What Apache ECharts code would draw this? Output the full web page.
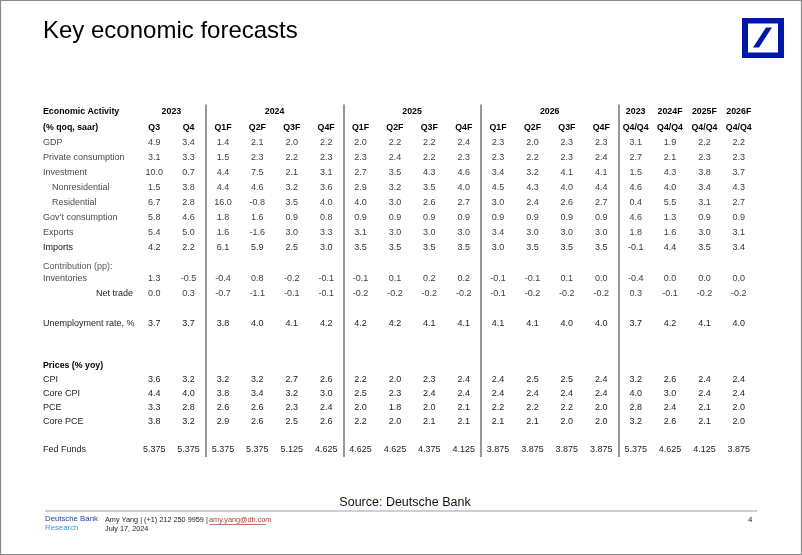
<!DOCTYPE html>
<html>
<head>
<meta charset="utf-8">
<script src="https://cdn.jsdelivr.net/npm/echarts@6/dist/echarts.min.js"></script>
<style>html,body{margin:0;padding:0;background:#fff;}#c{width:802px;height:555px;}</style>
</head>
<body>
<div id="c"></div>
<script>
// ---- column headers ----
const quarterLabels = ['Q3','Q4','Q1F','Q2F','Q3F','Q4F','Q1F','Q2F','Q3F','Q4F','Q1F','Q2F','Q3F','Q4F','Q4/Q4','Q4/Q4','Q4/Q4','Q4/Q4'];
const yearLabels = ['2023','2023','2024','2024','2024','2024','2025','2025','2025','2025','2026','2026','2026','2026','2023 ','2024F','2025F','2026F'];

// ---- row labels ----
const topRowLabels = ['Economic Activity','(% qoq, saar)','GDP','Private consumption','Investment','Nonresidential','Residential','Gov\u2019t consumption','Exports','Imports','Contribution (pp):','Inventories','Net trade','','Unemployment rate, %'];
const bottomRowLabels = ['','','Prices (% yoy)','CPI','Core CPI','PCE','Core PCE','','Fed Funds'];

// ---- series values ----
const gdp          = [4.9,3.4,1.4,2.1,2.0,2.2,2.0,2.2,2.2,2.4,2.3,2.0,2.3,2.3,3.1,1.9,2.2,2.2];
const privCons     = [3.1,3.3,1.5,2.3,2.2,2.3,2.3,2.4,2.2,2.3,2.3,2.2,2.3,2.4,2.7,2.1,2.3,2.3];
const investment   = [10.0,0.7,4.4,7.5,2.1,3.1,2.7,3.5,4.3,4.6,3.4,3.2,4.1,4.1,1.5,4.3,3.8,3.7];
const nonres       = [1.5,3.8,4.4,4.6,3.2,3.6,2.9,3.2,3.5,4.0,4.5,4.3,4.0,4.4,4.6,4.0,3.4,4.3];
const residential  = [6.7,2.8,16.0,-0.8,3.5,4.0,4.0,3.0,2.6,2.7,3.0,2.4,2.6,2.7,0.4,5.5,3.1,2.7];
const govCons      = [5.8,4.6,1.8,1.6,0.9,0.8,0.9,0.9,0.9,0.9,0.9,0.9,0.9,0.9,4.6,1.3,0.9,0.9];
const exportsV     = [5.4,5.0,1.6,-1.6,3.0,3.3,3.1,3.0,3.0,3.0,3.4,3.0,3.0,3.0,1.8,1.6,3.0,3.1];
const importsV     = [4.2,2.2,6.1,5.9,2.5,3.0,3.5,3.5,3.5,3.5,3.0,3.5,3.5,3.5,-0.1,4.4,3.5,3.4];
const inventories  = [1.3,-0.5,-0.4,0.8,-0.2,-0.1,-0.1,0.1,0.2,0.2,-0.1,-0.1,0.1,0.0,-0.4,0.0,0.0,0.0];
const netTrade     = [0.0,0.3,-0.7,-1.1,-0.1,-0.1,-0.2,-0.2,-0.2,-0.2,-0.1,-0.2,-0.2,-0.2,0.3,-0.1,-0.2,-0.2];
const unemployment = [3.7,3.7,3.8,4.0,4.1,4.2,4.2,4.2,4.1,4.1,4.1,4.1,4.0,4.0,3.7,4.2,4.1,4.0];
const cpi          = [3.6,3.2,3.2,3.2,2.7,2.6,2.2,2.0,2.3,2.4,2.4,2.5,2.5,2.4,3.2,2.6,2.4,2.4];
const coreCpi      = [4.4,4.0,3.8,3.4,3.2,3.0,2.5,2.3,2.4,2.4,2.4,2.4,2.4,2.4,4.0,3.0,2.4,2.4];
const pce          = [3.3,2.8,2.6,2.6,2.3,2.4,2.0,1.8,2.0,2.1,2.2,2.2,2.2,2.0,2.8,2.4,2.1,2.0];
const corePce      = [3.8,3.2,2.9,2.6,2.5,2.6,2.2,2.0,2.1,2.1,2.1,2.1,2.0,2.0,3.2,2.6,2.1,2.0];
const fedFunds     = [5.375,5.375,5.375,5.375,5.125,4.625,4.625,4.625,4.375,4.125,3.875,3.875,3.875,3.875,5.375,4.625,4.125,3.875];

// row -> series mapping
const topSeries = [null,null,gdp,privCons,investment,nonres,residential,govCons,exportsV,importsV,null,inventories,netTrade,null,unemployment];
const bottomSeries = [null,null,null,cpi,coreCpi,pce,corePce,null,fedFunds];

// ---- presentation (styles) ----
const FONT = 'Liberation Sans, Arial, sans-serif';
const topRowStyle = ['hdr','hdr','lite','lite','lite','ind','ind','lite','lite','imp','contrib','lite','nt','lite','dark'];
const bottomRowStyle = ['lite','lite','hdr','dark','dark','dark','dark','lite','dark'];
const valueColor = {hdr:'#000', lite:'#3d3d3d', ind:'#3d3d3d', imp:'#2e2e2e', contrib:'#3d3d3d', nt:'#3d3d3d', dark:'#222'};
const groupBreaks = [2,6,10,14];

const colKeys = quarterLabels.map((q,i)=> yearLabels[i].trim() + ' ' + q + ' #' + i);

function fmt(v, d){ return v.toFixed(d); }

function buildCells(seriesArr, styleArr){
  const cells = [];
  seriesArr.forEach((arr, r) => {
    if (!arr) return;
    const d = arr === fedFunds ? 3 : 1;
    arr.forEach((v, c) => cells.push({value:[c, r], text: fmt(v, d), color: valueColor[styleArr[r]], bold:false}));
  });
  return cells;
}
const cellsA = buildCells(topSeries, topRowStyle);
// quarter header row (row index 1)
quarterLabels.forEach((q, c) => cellsA.push({value:[c, 1], text:q, color:'#000', bold:true}));
const cellsB = buildCells(bottomSeries, bottomRowStyle);

// year header runs (row index 0)
const yearRuns = [];
yearLabels.forEach((y, c) => {
  const last = yearRuns[yearRuns.length-1];
  if (last && last.label === y) last.end = c; else yearRuns.push({label:y, start:c, end:c});
});

function cellRender(cells){
  return function(params, api){
    const cell = cells[params.dataIndex];
    const p = api.coord([api.value(0), api.value(1)]);
    return {type:'text', x:p[0], y:p[1], style:{text:cell.text, align:'center', verticalAlign:'middle',
      font:(cell.bold?'bold 8.8px ':'9px ') + FONT, fill:cell.color}};
  };
}

const rich = {
  hdr:{fontWeight:'bold', color:'#000', fontSize:8.8, fontFamily:FONT},
  lite:{color:'#4a4a4a', fontSize:9, fontFamily:FONT},
  ind:{color:'#4a4a4a', fontSize:9, fontFamily:FONT, padding:[0,0,0,9]},
  imp:{color:'#111', fontSize:9, fontFamily:FONT},
  contrib:{color:'#555', fontSize:9, fontFamily:FONT, padding:[7,0,0,0]},
  nt:{color:'#222', fontSize:9, fontFamily:FONT, padding:[0,0,0,53]},
  dark:{color:'#1e1e1e', fontSize:9, fontFamily:FONT}
};

function yAxisFor(gridIndex, labels, styles){
  return {gridIndex, type:'category', inverse:true, data: labels.map((l,i)=>'row'+i),
    axisLine:{show:false}, axisTick:{show:false}, splitLine:{show:false},
    axisLabel:{interval:0, margin:94, align:'left', fontFamily:FONT, fontSize:9,
      formatter:(v, idx)=> labels[idx] ? '{' + styles[idx] + '|' + labels[idx] + '}' : '', rich}};
}
const sepColor = '#7d7d7d';
function xAxisFor(gridIndex){
  return {gridIndex, type:'category', data: colKeys, boundaryGap:true,
    axisLine:{show:false}, axisTick:{show:false}, axisLabel:{show:false},
    splitLine:{show:true, interval:(idx)=> groupBreaks.indexOf(idx) >= 0,
      lineStyle:{color:[sepColor, sepColor, sepColor, sepColor, 'rgba(0,0,0,0)'], width:1.6}}};
}

const chart = echarts.init(document.getElementById('c'));
chart.setOption({
  animation:false,
  backgroundColor:'#fff',
  grid:[
    {left:137, right:46, top:104.5, height:226.5},
    {left:137, right:46, top:331, height:126}
  ],
  xAxis:[xAxisFor(0), xAxisFor(1)],
  yAxis:[yAxisFor(0, topRowLabels, topRowStyle), yAxisFor(1, bottomRowLabels, bottomRowStyle)],
  series:[
    {type:'custom', xAxisIndex:0, yAxisIndex:0, data: cellsA.map(c=>c.value), renderItem: cellRender(cellsA), silent:true},
    {type:'custom', xAxisIndex:1, yAxisIndex:1, data: cellsB.map(c=>c.value), renderItem: cellRender(cellsB), silent:true},
    {type:'custom', xAxisIndex:0, yAxisIndex:0, data: yearRuns.map(r=>[r.start, r.end, 0]), silent:true,
      renderItem:(params, api)=>{
        const run = yearRuns[params.dataIndex];
        const a = api.coord([api.value(0), api.value(2)]);
        const b = api.coord([api.value(1), api.value(2)]);
        return {type:'text', x:(a[0]+b[0])/2, y:a[1], style:{text:run.label.trim(), align:'center', verticalAlign:'middle', font:'bold 8.8px ' + FONT, fill:'#000'}};
      }}
  ],
  graphic:[
    {type:'rect', shape:{x:0.5, y:0.5, width:801, height:554}, style:{fill:'none', stroke:'#8a8a8a', lineWidth:1.2}, silent:true},
    {type:'text', x:43, y:31, style:{text:'Key economic forecasts', font:'24px ' + FONT, fill:'#000', verticalAlign:'middle'}},
    // logo
    {type:'rect', shape:{x:742, y:18, width:42, height:40}, style:{fill:'#0018a8'}},
    {type:'rect', shape:{x:748, y:23.5, width:30, height:29}, style:{fill:'#fff'}},
    {type:'polygon', shape:{points:[[753,47.5],[759,47.5],[772,27.5],[766,27.5]]}, style:{fill:'#0018a8'}},
    // footer
    {type:'text', x:405, y:503, style:{text:'Source: Deutsche Bank', font:'12.5px ' + FONT, fill:'#111', align:'center', verticalAlign:'middle'}},
    {type:'line', shape:{x1:45, y1:511, x2:757, y2:511}, style:{stroke:'#95a0b2', lineWidth:1}},
    {type:'text', x:45, y:519, style:{text:'Deutsche Bank', font:'7.8px ' + FONT, fill:'#1d3f98', verticalAlign:'middle'}},
    {type:'text', x:45, y:528, style:{text:'Research', font:'7.8px ' + FONT, fill:'#2f9ed8', verticalAlign:'middle'}},
    {type:'text', x:105, y:520, style:{text:'Amy Yang | (+1) 212 250 9959 |', font:'7.3px ' + FONT, fill:'#222', verticalAlign:'middle'}},
    {type:'text', x:209, y:520, style:{text:'amy.yang@db.com', font:'7.3px ' + FONT, fill:'#b03a2e', verticalAlign:'middle'}},
    {type:'line', shape:{x1:209, y1:524.5, x2:266, y2:524.5}, style:{stroke:'#b03a2e', lineWidth:0.7}},
    {type:'text', x:105, y:528.5, style:{text:'July 17, 2024', font:'7.3px ' + FONT, fill:'#222', verticalAlign:'middle'}},
    {type:'text', x:748, y:520, style:{text:'4', font:'8px ' + FONT, fill:'#222', verticalAlign:'middle'}}
  ]
});
</script>
</body>
</html>
